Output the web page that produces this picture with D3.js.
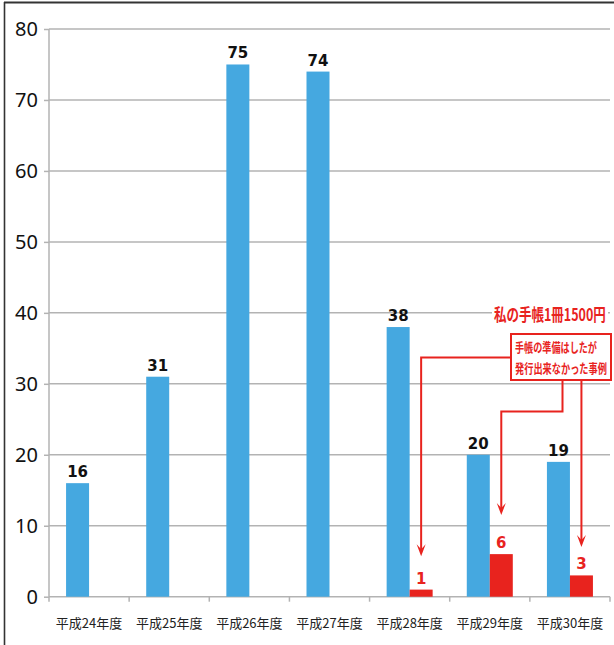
<!DOCTYPE html>
<html><head><meta charset="utf-8">
<script src="https://cdn.jsdelivr.net/npm/d3@7"></script>
<style>body{margin:0;background:#fff}svg{display:block}</style>
</head><body>
<svg id="c" width="614" height="645"></svg>
<script>
const categories = ["平成24年度","平成25年度","平成26年度","平成27年度","平成28年度","平成29年度","平成30年度"];
const issued = [16,31,75,74,38,20,19];
const notIssued = [null,null,null,null,1,6,3];
const yTicks = [0,10,20,30,40,50,60,70,80];
const calloutTitle = "私の手帳1冊1500円";
const calloutLines = ["手帳の準備はしたが","発行出来なかった事例"];
const arrowTips = [5.7, 11.5, 7.0];

const BLUE = "#45a8e0", RED = "#e8231e", GRID = "#b3b3b3";
const svg = d3.select("#c");

// frame
svg.append("line").attr("x1",4.5).attr("x2",4.5).attr("y1",2).attr("y2",645).attr("stroke","#333").attr("stroke-width",1.6);
svg.append("line").attr("x1",4).attr("x2",614).attr("y1",2.5).attr("y2",2.5).attr("stroke","#333").attr("stroke-width",1.8);

const x = d3.scaleBand().domain(categories).range([49,610]).padding(0);
const sub = d3.scaleBand().domain(["a","b"]).range([0,x.bandwidth()]).paddingInner(0).paddingOuter(0.742);
const y = d3.scaleLinear().domain([0,80]).range([596.7,29]);

// gridlines
svg.append("g").selectAll("line").data(yTicks.filter(d=>d>0)).join("line")
  .attr("x1",49).attr("x2",610).attr("y1",d=>y(d)).attr("y2",d=>y(d))
  .attr("stroke",GRID).attr("stroke-width",1.5);

// y axis
const ya = svg.append("g").attr("transform","translate(49,0)")
  .call(d3.axisLeft(y).tickValues(yTicks).tickSize(5).tickPadding(6));
ya.selectAll("path,line").attr("stroke",GRID).attr("stroke-width",1.5);
ya.select("path").attr("d",`M0,${y(0)}V${y(80)}`);
ya.selectAll("text").attr("font-family","'Noto Sans','Open Sans',sans-serif").attr("font-size",20).attr("fill","#111").attr("dy","0.34em");

// x axis baseline + boundary ticks
const xg = svg.append("g");
xg.append("line").attr("x1",49).attr("x2",610).attr("y1",y(0)).attr("y2",y(0)).attr("stroke",GRID).attr("stroke-width",1.5);
const bounds = categories.map(c=>x(c)).concat([x(categories[categories.length-1])+x.bandwidth()]);
xg.selectAll("line.t").data(bounds).join("line").attr("class","t")
  .attr("x1",d=>d).attr("x2",d=>d).attr("y1",y(0)).attr("y2",y(0)+5).attr("stroke",GRID).attr("stroke-width",1.5);
xg.selectAll("text").data(categories).join("text")
  .attr("x",d=>x(d)+x.bandwidth()/2).attr("y",628).attr("text-anchor","middle")
  .attr("font-family","'Noto Sans CJK JP',sans-serif").attr("font-size",13).attr("fill","#222").text(d=>d);

// bars
const bars = svg.append("g");
bars.selectAll("rect.a").data(issued).join("rect").attr("class","a")
  .attr("x",(d,i)=>x(categories[i])+sub("a")).attr("width",sub.bandwidth())
  .attr("y",d=>y(d)).attr("height",d=>y(0)-y(d)).attr("fill",BLUE);
const red = notIssued.map((v,i)=>({v,i})).filter(d=>d.v!=null);
bars.selectAll("rect.b").data(red).join("rect").attr("class","b")
  .attr("x",d=>x(categories[d.i])+sub("b")).attr("width",sub.bandwidth())
  .attr("y",d=>y(d.v)).attr("height",d=>y(0)-y(d.v)).attr("fill",RED);

// labels
const lf = "'DejaVu Sans',Verdana,sans-serif";
svg.append("g").selectAll("text").data(issued).join("text")
  .attr("x",(d,i)=>x(categories[i])+sub("a")+sub.bandwidth()/2).attr("y",d=>y(d)-6)
  .attr("text-anchor","middle").attr("font-family",lf).attr("font-weight","bold").attr("font-size",15).attr("fill","#111").text(d=>d);
svg.append("g").selectAll("text").data(red).join("text")
  .attr("x",d=>x(categories[d.i])+sub("b")+sub.bandwidth()/2).attr("y",d=>y(d.v)-6)
  .attr("text-anchor","middle").attr("font-family",lf).attr("font-weight","bold").attr("font-size",15).attr("fill",RED).text(d=>d.v);

// callout
const cf = "'Noto Sans CJK JP',sans-serif";
function condensed(txt, x0, y0, size, width){
  const g = svg.append("g").attr("transform",`translate(${x0},${y0})`);
  const t = g.append("text").attr("font-family",cf).attr("font-weight","bold").attr("font-size",size).attr("fill",RED).text(txt);
  const w = t.node().getComputedTextLength();
  t.attr("transform",`scale(${width/w},1)`);
}
svg.append("rect").attr("x",492).attr("y",303).attr("width",116).attr("height",20).attr("fill","#fff");
condensed(calloutTitle,494,321,17,112);
svg.append("rect").attr("x",511).attr("y",334).attr("width",100).attr("height",46)
  .attr("fill","#fff").attr("stroke",RED).attr("stroke-width",2);
const lw = [82,92];
calloutLines.forEach((t,i)=>condensed(t,515,352+i*21,13,lw[i]));

// leader lines with arrows
const redIdx = red.map(d=>d.i);
const cx = i => x(categories[i])+sub("b")+sub.bandwidth()/2;
const paths = [
  [[511,357.5],[cx(redIdx[0]),357.5],[cx(redIdx[0]),y(arrowTips[0])]],
  [[562.5,380],[562.5,411.5],[cx(redIdx[1]),411.5],[cx(redIdx[1]),y(arrowTips[1])]],
  [[cx(redIdx[2]),380],[cx(redIdx[2]),y(arrowTips[2])]]
];
const lg = svg.append("g");
paths.forEach(p=>{
  lg.append("path").attr("d",d3.line()(p.slice(0,-1).concat([[p[p.length-1][0],p[p.length-1][1]-4]])))
    .attr("fill","none").attr("stroke",RED).attr("stroke-width",2);
  const [tx,ty] = p[p.length-1];
  lg.append("path").attr("d",`M${tx},${ty}L${tx-4.5},${ty-12}L${tx},${ty-7}L${tx+4.5},${ty-12}Z`).attr("fill",RED);
});
</script>
</body></html>
